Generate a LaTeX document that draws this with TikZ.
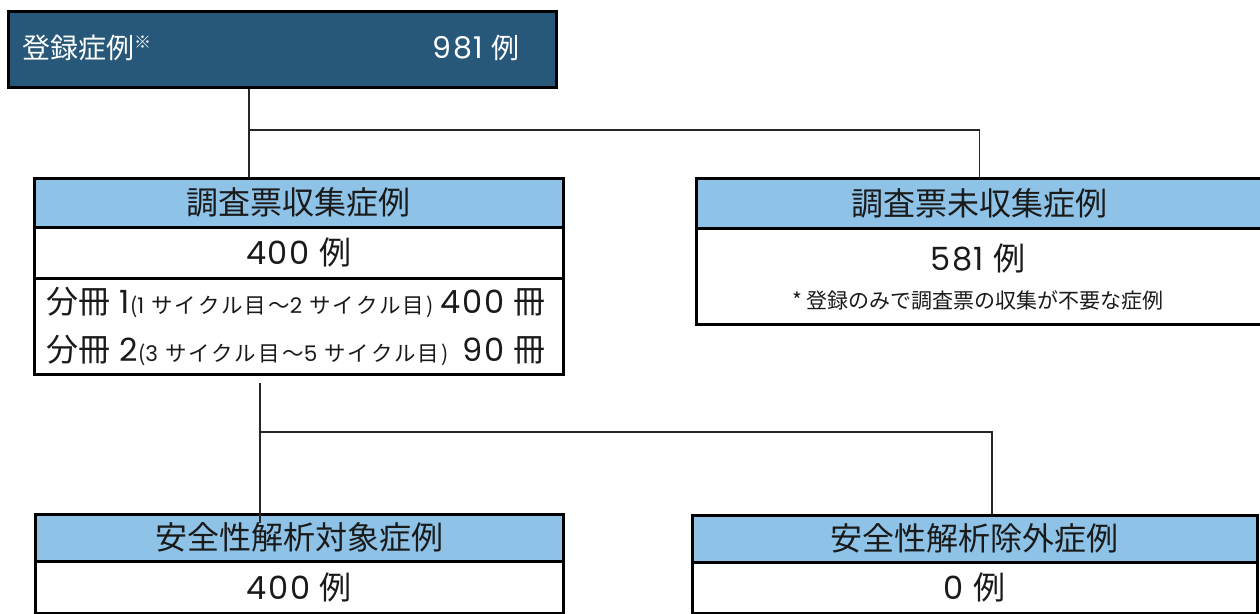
\documentclass[tikz,border=0pt]{standalone}
\usepackage{fontspec}
\setmainfont{Noto Sans CJK JP}
\newfontfamily\pop{Poppins}
\usepackage{xcolor}
\usepackage{tikz}
\usetikzlibrary{calc}
\definecolor{navy}{HTML}{27587A}
\definecolor{sky}{HTML}{8EC3E7}
\definecolor{ink}{HTML}{1A1A1A}
\newcommand{\bigtxt}{\fontsize{32}{36}\selectfont}
\newcommand{\toptxt}{\fontsize{28}{32}\selectfont}
\newcommand{\smtxt}{\fontsize{21.5}{24}\selectfont\addfontfeatures{LetterSpace=10}}
\newcommand{\notetxt}{\fontsize{21}{24}\selectfont}
\newcommand{\digits}[1]{{\pop\addfontfeatures{LetterSpace=5}#1}}
\newcommand{\gap}{\hspace{0.3em}}
\tikzset{
  cell/.style={draw=black, line width=2.6pt, inner sep=0pt, anchor=north west, text=ink, font=\bigtxt},
  head/.style={cell, fill=sky},
  conn/.style={draw=black!85, line width=1.1pt},
  lab/.style={inner sep=0pt, text=ink, font=\bigtxt},
  wlab/.style={inner sep=0pt, text=white, font=\toptxt},
}

\begin{document}
\begin{tikzpicture}[x=1pt, y=-1pt]
  \useasboundingbox (0,0) rectangle (1260,613);
  \node[cell, fill=navy, minimum width=548pt, minimum height=76pt] (top) at (7,10) {};
  \node[wlab, anchor=west] (toplab) at (22,48) {登録症例\raisebox{0.35em}{\fontsize{17}{20}\selectfont ※}};
  \node[wlab, anchor=east] (topnum) at (520,48) {{\fontsize{30}{32}\selectfont\digits{981}}\gap 例};

  \node[head, minimum width=529pt, minimum height=49pt] (lhead) at (33,177) {調査票収集症例};
  \node[cell, minimum width=529pt, minimum height=51pt] (lnum) at (33,226) {\digits{400}\gap 例};
  \node[cell, minimum width=529pt, minimum height=96pt] (lvol) at (33,277) {};
  \node[lab, anchor=west] (v1) at (46,302) {分冊\gap\digits{1}{\smtxt(\digits{1} サイクル目～\digits{2} サイクル目)}};
  \node[lab, anchor=east] (v1n) at (546,302) {\digits{400}\gap 冊};
  \node[lab, anchor=west] (v2) at (46,350) {分冊\gap\digits{2}{\smtxt(\digits{3} サイクル目～\digits{5} サイクル目)}};
  \node[lab, anchor=east] (v2n) at (546,350) {\digits{90}\gap 冊};

  \node[head, minimum width=566pt, minimum height=50pt] (rhead) at (695,177) {調査票未収集症例};
  \node[cell, minimum width=566pt, minimum height=96pt] (rbody) at (695,227) {};
  \node[lab] (rnum) at (978,258) {\digits{581}\gap 例};
  \node[lab, font=\notetxt] (rnote) at (978,301) {* 登録のみで調査票の収集が不要な症例};

  \node[head, minimum width=528pt, minimum height=47pt] (blhead) at (34,513) {安全性解析対象症例};
  \node[cell, minimum width=528pt, minimum height=52pt] (blbody) at (34,560) {\digits{400}\gap 例};
  \node[head, minimum width=565pt, minimum height=47pt] (brhead) at (691,514) {安全性解析除外症例};
  \node[cell, minimum width=565pt, minimum height=51pt] (brbody) at (691,561) {\digits{0}\gap 例};

  \coordinate (j1) at (249,130);
  \coordinate (t2) at (260,383);
  \coordinate (j2) at (260,432);
  \coordinate (j3) at (992,432);
  \draw[conn] (top.south -| j1) -- (j1) -- (j1 |- lhead.north);
  \draw[conn] (j1) -- (j1 -| rhead.north) -- (rhead.north);
  \draw[conn] (t2) -- ($(t2 |- blhead.north)+(0,10)$);
  \draw[conn] (j2) -- (j3) -- (j3 |- brhead.north);
\end{tikzpicture}
\end{document}
